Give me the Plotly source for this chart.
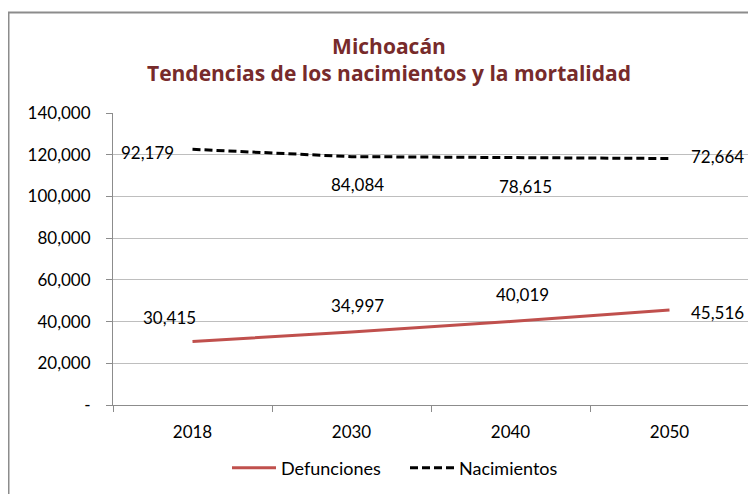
import plotly.graph_objects as go

years = ["2018", "2030", "2040", "2050"]
defunciones = [30415, 34997, 40019, 45516]
nacimientos = [92179, 84084, 78615, 72664]
y_ticks = [0, 20000, 40000, 60000, 80000, 100000, 120000, 140000]
y_ticktext = ["-", "20,000", "40,000", "60,000", "80,000", "100,000", "120,000", "140,000"]

# Stacked line chart: Nacimientos is stacked on Defunciones
stacked_nac = [d + n for d, n in zip(defunciones, nacimientos)]

FONT = "Lato"
W, H = 748, 486
L, T, PW, PH = 105, 105, 636, 292

fig = go.Figure()
fig.add_trace(go.Scatter(
    x=years, y=defunciones, name="Defunciones", mode="lines",
    line=dict(color="#C0504D", width=3), stackgroup="s", fill="none",
))
fig.add_trace(go.Scatter(
    x=years, y=nacimientos, name="Nacimientos", mode="lines",
    line=dict(color="black", width=3, dash="8px,4px"), stackgroup="s", fill="none",
))

def_shifts = [(-23, 24), (6, 27), (12, 27), (48, -2)]
nac_shifts = [(-45, -3), (6, -28), (15, -29), (48, 2)]
annotations = []
for i, yr in enumerate(years):
    xs, ys = def_shifts[i]
    annotations.append(dict(x=i, y=defunciones[i], xref="x", yref="y",
                            text=f"{defunciones[i]:,}",
                            showarrow=False, xshift=xs, yshift=ys,
                            font=dict(family=FONT, size=17, color="black")))
    xs, ys = nac_shifts[i]
    annotations.append(dict(x=i, y=stacked_nac[i], xref="x", yref="y",
                            text=f"{nacimientos[i]:,}",
                            showarrow=False, xshift=xs, yshift=ys,
                            font=dict(family=FONT, size=17, color="black")))

fig.update_layout(
    width=W, height=H,
    margin=dict(l=L, r=W - L - PW, t=T, b=H - T - PH, autoexpand=False),
    paper_bgcolor="white", plot_bgcolor="white",
    title=dict(
        text="Michoacán<br>Tendencias de los nacimientos y la mortalidad",
        x=381 / W, xref="container", xanchor="center", y=1 - 46 / H, yanchor="middle",
        font=dict(family="Open Sans", size=21, color="#772B2B", weight="bold"),
    ),
    showlegend=True,
    legend=dict(orientation="h", x=(397 - L) / PW, xanchor="center",
                y=(T + PH - 460) / PH, yanchor="middle",
                font=dict(family=FONT, size=18, color="black"),
                itemwidth=44, entrywidth=119, tracegroupgap=0),
    annotations=annotations,
    shapes=[dict(type="rect", xref="paper", yref="paper",
                 x0=(0.5 - L) / PW, x1=(W + 10 - L) / PW,
                 y0=(T + PH - (H + 10)) / PH, y1=(T + PH - 4.5) / PH,
                 line=dict(color="#8C8C8C", width=2), fillcolor="rgba(0,0,0,0)", layer="below")],
)
fig.update_xaxes(
    type="category", range=[-0.5, 3.5], showline=True, linecolor="#8C8C8C", linewidth=1,
    ticks="outside", tickson="boundaries", ticklen=6, tickcolor="#8C8C8C",
    ticklabelstandoff=12,
    showgrid=False, tickfont=dict(family=FONT, size=17, color="black"),
)
fig.update_yaxes(
    range=[0, 140000], tickvals=y_ticks, ticktext=y_ticktext,
    showline=True, linecolor="#8C8C8C", linewidth=1,
    ticks="outside", ticklen=6, tickcolor="#8C8C8C",
    ticklabelstandoff=12,
    showgrid=True, gridcolor="#BEBEBE", gridwidth=1, zeroline=False,
    tickfont=dict(family=FONT, size=17, color="black"),
)

fig.write_html("out.html")
